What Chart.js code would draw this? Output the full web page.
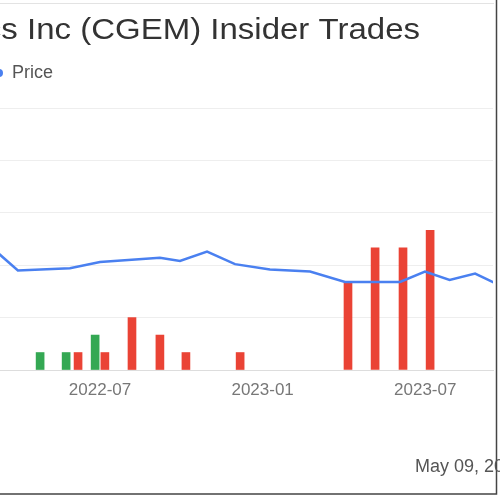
<!DOCTYPE html>
<html>
<head>
<meta charset="utf-8">
<script src="https://cdn.jsdelivr.net/npm/chart.js@4"></script>
<style>
  body { margin: 0; background: #fff; }
  #wrap { position: absolute; left: 0; top: 0; width: 500px; height: 500px; }
</style>
</head>
<body>
<div id="wrap"><canvas id="c"></canvas></div>
<script>
// x values are months counted from 2022-01 (6 = 2022-07)
const priceMonths = [2.0, 2.97, 4.89, 6.0, 8.21, 8.95, 9.95, 10.98, 12.27, 13.75, 15.04, 17.07, 17.99, 18.9, 19.84, 20.8];
const priceValues = [11.7, 9.5, 9.7, 10.3, 10.7, 10.4, 11.3, 10.1, 9.6, 9.4, 8.4, 8.4, 9.4, 8.6, 9.2, 8.0];
const buyMonths = [3.79, 4.75, 5.82];
const buyCounts = [1, 1, 2];
const sellMonths = [5.19, 6.18, 7.18, 8.21, 9.17, 11.17, 15.15, 16.15, 17.18, 18.18];
const sellCounts = [1, 1, 3, 2, 1, 1, 5, 7, 7, 8];
const tickMonths = [6, 12, 18];
const tickLabels = ['2022-07', '2023-01', '2023-07'];

const toPts = (xs, ys) => xs.map((x, i) => ({ x: x, y: ys[i] }));

const decor = {
  id: 'decor',
  afterDraw(chart) {
    const ctx = chart.ctx;
    ctx.save();
    ctx.strokeStyle = '#e3e3e3';
    ctx.lineWidth = 1;
    ctx.beginPath();
    ctx.moveTo(0, 3.5); ctx.lineTo(494, 3.5);
    ctx.stroke();
    ctx.strokeStyle = '#444';
    ctx.lineWidth = 1.5;
    ctx.beginPath();
    ctx.moveTo(496.5, 0); ctx.lineTo(496.5, 494); ctx.lineTo(0, 494);
    ctx.stroke();
    ctx.fillStyle = '#333';
    ctx.font = '30px "Liberation Sans", Arial, sans-serif';
    ctx.textAlign = 'right';
    ctx.textBaseline = 'middle';
    ctx.save();
    ctx.translate(420, 31);
    ctx.scale(1.1, 1);
    ctx.fillText('Cullinan Therapeutics Inc (CGEM) Insider Trades', 0, 0);
    ctx.restore();
    ctx.fillStyle = '#4a80f0';
    ctx.beginPath(); ctx.arc(-1, 73, 4, 0, Math.PI * 2); ctx.fill();
    ctx.fillStyle = '#555';
    ctx.font = '18px "Liberation Sans", Arial, sans-serif';
    ctx.textAlign = 'left';
    ctx.fillText('Price', 12, 73);
    ctx.fillText('May 09, 2024', 415, 467);
    ctx.restore();
  }
};

new Chart(document.getElementById('c'), {
  data: {
    datasets: [
      { type: 'line', label: 'Price', data: toPts(priceMonths, priceValues), yAxisID: 'yp',
        borderColor: '#4a80f0', borderWidth: 2.5, pointRadius: 0, tension: 0, order: 0 },
      { type: 'bar', label: 'Buy', data: toPts(buyMonths, buyCounts), yAxisID: 'yb',
        backgroundColor: '#34a853', barThickness: 8, grouped: false, order: 1 },
      { type: 'bar', label: 'Sell', data: toPts(sellMonths, sellCounts), yAxisID: 'yb',
        backgroundColor: '#ea4335', barThickness: 8, grouped: false, order: 1 }
    ]
  },
  options: {
    responsive: true,
    maintainAspectRatio: false,
    animation: false,
    layout: { padding: { left: 0, right: 7, top: 108, bottom: 0 } },
    plugins: { legend: { display: false }, tooltip: { enabled: false } },
    scales: {
      x: {
        type: 'linear', min: 2.31, max: 20.5, offset: false,
        afterBuildTicks: s => { s.ticks = tickMonths.map(v => ({ value: v })); },
        ticks: { callback: v => tickLabels[tickMonths.indexOf(v)] || '', color: '#777',
                 font: { size: 17, family: '"Liberation Sans", Arial' }, maxRotation: 0, padding: 2 },
        grid: { display: false },
        border: { color: '#ddd' },
        afterFit: s => { s.height = 130; }
      },
      yb: {
        position: 'left', min: 0, max: 15, display: true,
        ticks: { display: false, stepSize: 3 },
        grid: { color: '#eee', drawTicks: false },
        border: { display: false },
        afterFit: s => { s.width = 0; }
      },
      yp: { position: 'right', min: 0, max: 25, display: false }
    }
  },
  plugins: [decor]
});
</script>
</body>
</html>
